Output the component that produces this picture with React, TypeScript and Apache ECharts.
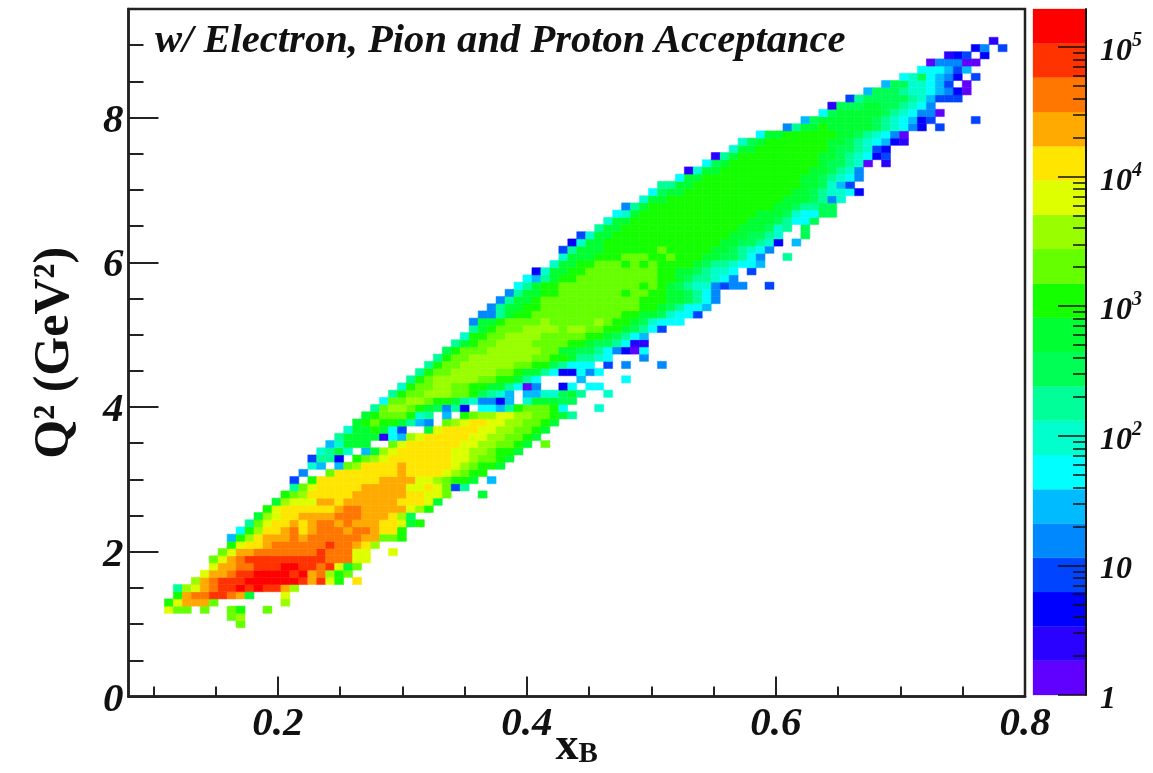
import React, { useEffect, useRef } from "react";
import * as echarts from "echarts";

// Level codes a..t are the 20 contour bands of the palette, low to high.
const LEVEL_CODES = "abcdefghijklmnopqrst";
const levelColors = [
  "#6000ff", "#2a00ff", "#0000ff", "#0044ff", "#0088ff", "#00bbff", "#00ffff", "#00ffcc", "#00ff99", "#00ff55",
  "#00ff33", "#14ff00", "#66ff00", "#99ff00", "#ddff00", "#ffe600", "#ffaa00", "#ff7700", "#ff3300", "#ff0000",
];

// [Q2 row, first xB column, cell codes]; a letter may carry a repeat count, "." is an empty bin.
const histogramRows: [number, number, string][] = [
  [10, 12, "m"],
  [11, 11, "mn"],
  [12, 4, "omm.m..ml..m"],
  [13, 4, "loq3m.7n"],
  [14, 5, "lqrrssrqk.3o"],
  [15, 5, "inoqrsststssqn"],
  [16, 7, "nqrs3t6sqsol.p"],
  [17, 8, "oqqrsst4stqrnlm"],
  [18, 9, "oqqrrs3ttssrsokm"],
  [19, 9, "moqrs9r3oo"],
  [20, 10, "moqqr7sr3oo..o"],
  [21, 11, "loppqr6srrqpn"],
  [22, 11, "flnpq3rqr6qqmml"],
  [23, 12, "glnppqrpqr3qrrqppl"],
  [24, 13, "imoppqpqrrqrq3ppokl"],
  [25, 14, "knoppq4r3q3pnj"],
  [26, 15, "lop6qrrq5onl"],
  [27, 16, "kno3qqpq6p3ok"],
  [28, 17, "lmnp5q6ppoom.3k"],
  [29, 18, "imop5q5oopomdi"],
  [30, 18, "d.lp7q4oonmllk.f"],
  [31, 19, "e..mp7qp4onmll"],
  [32, 20, "hf.fmnp4qp5onmllk"],
  [33, 20, "diic.lmnop7oonmmlk"],
  [34, 21, "hikh.fknop6oonnmllk"],
  [35, 22, "fhk3..mop6oonnmmlk.m"],
  [36, 23, "ik4bgfnop5oonnmmlk"],
  [37, 24, "hkklkgd..kop4oonnmmlk"],
  [38, 25, "klmllkife.mnoppoonnmmlk"],
  [39, 26, "klm3lhi.f.lmnnoonnmmlki"],
  [40, 27, "imnnmlkjeic.ggfilm3lg.3h"],
  [41, 28, "gmmnnmllkiheecf.hk3jj"],
  [42, 29, "ilmmn3mmljihf.ffhhjki..h"],
  [43, 30, "hlmmnnmmllkkigae..cg.gg"],
  [44, 31, "ilmn5mmllkig.4f.4g"],
  [45, 32, "ilmmn5mmlkkigccgeg"],
  [46, 33, "ilmmn6mmlljiggg.d.e.3e"],
  [47, 34, "ilmmn7mmllkiihg.3e"],
  [48, 35, "jlm3n6mmkkjjigecag"],
  [49, 36, "iklmmn4m4llkjjigbb"],
  [50, 37, "hllmmn4m5llkjigf"],
  [51, 38, "iklm3n4mnnmmllkjigd"],
  [52, 38, "ekklm4nm5nmllkjhggg"],
  [53, 39, "eeikllm10llkkjhggd"],
  [54, 40, "eikkllm11llkjiggf"],
  [55, 41, "eikklm11l3kkjige"],
  [56, 42, "eikkllm7lmmllkkjige"],
  [57, 43, "gikllm9lmlkjihhedee..d"],
  [58, 44, "gfikllm9llkjiihge"],
  [59, 45, "chkkllm8llkkjihhg.d"],
  [60, 47, "hkkllm3lmlml4kjiihggf"],
  [61, 48, "hk3l3m3llml3kkjjige..i"],
  [62, 48, "dik3l6ml5kkjihge"],
  [63, 49, "chkkl13kkjjihc.f"],
  [64, 50, "dhkkl13kkjjih..j"],
  [65, 52, "ikkl13k3jhi.j"],
  [66, 53, "hkkl13k3jiggj"],
  [67, 54, "ghkl13k3jhggjj"],
  [68, 55, "eikl14kkjiijj"],
  [69, 57, "hkkl13k3jieh"],
  [70, 58, "gjkkl12kkjihhgc"],
  [71, 59, "iikkl12kkjhfd"],
  [72, 61, "gkkl11kkjihge"],
  [73, 62, "bhkkl10kkjihe"],
  [74, 64, "gjkl10kjjiha.b"],
  [75, 65, "bikl9kkjihgcd"],
  [76, 67, "hkkl8kjjihdc"],
  [77, 68, "hjkl7kkjihgfcb"],
  [78, 70, "gkkl6kkjihgea"],
  [79, 73, "eikklk5jihgec.d"],
  [80, 75, "fjk6jihgfcd.4d"],
  [81, 77, "gjk5jihgeea"],
  [82, 78, "bj3kkjjihge"],
  [83, 80, "dij5ihfd3"],
  [84, 82, "fj3ihhgfeca"],
  [85, 84, "fjjhhgfd.a"],
  [86, 86, "ghjgfec.d"],
  [87, 88, "g3fdf"],
  [88, 89, "ae3aa"],
  [89, 91, "bcd.c"],
  [90, 94, "ce.d"],
  [91, 96, "b"],
];

const X_MIN = 0.08;
const X_MAX = 0.8;
const X_BIN = 0.0072;
const Y_MAX = 9.5;
const Y_ORIGIN = 0.95;
const Y_FIRST_ROW = 10;
const Y_BIN = 0.0995;
const Z_MAX = 196000;

const xMajorTicks = [0.2, 0.4, 0.6, 0.8];
const xMinorTicks = [0.1, 0.15, 0.25, 0.3, 0.35, 0.45, 0.5, 0.55, 0.65, 0.7, 0.75];
const yMajorTicks = [0, 2, 4, 6, 8];
const yMinorTicks = [0.5, 1, 1.5, 2.5, 3, 3.5, 4.5, 5, 5.5, 6.5, 7, 7.5, 8.5, 9];
const zMajorTicks = [1, 10, 100, 1000, 10000, 100000];
const zMinorTicks = [
  2, 3, 4, 5, 6, 7, 8, 9, 20, 30, 40, 50, 60, 70, 80, 90, 200, 300, 400, 500, 600, 700, 800, 900,
  2000, 3000, 4000, 5000, 6000, 7000, 8000, 9000, 20000, 30000, 40000, 50000, 60000, 70000, 80000, 90000,
];

function buildCells() {
  const cells: number[][] = [];
  for (const [row, first, text] of histogramRows) {
    let col = first;
    for (const m of text.matchAll(/([a-t.])(\d*)/g)) {
      const n = m[2] ? Number(m[2]) : 1;
      for (let i = 0; i < n; i++, col++) {
        if (m[1] !== ".") {
          cells.push([X_MIN + col * X_BIN, Y_ORIGIN + (row - Y_FIRST_ROW) * Y_BIN, LEVEL_CODES.indexOf(m[1])]);
        }
      }
    }
  }
  return cells;
}

const SERIF = "Liberation Serif";
const axisLabelBase = { fontFamily: SERIF, fontWeight: "bold" as const, fontStyle: "italic" as const, color: "#111" };

export default function App() {
  const ref = useRef<HTMLDivElement>(null);
  useEffect(() => {
    document.body.style.margin = "0";
    const chart = echarts.init(ref.current!, null, { renderer: "svg" });
    const zStep = Math.log10(Z_MAX) / levelColors.length;
    const barData = levelColors.map((_, i) => [0, Math.pow(10, i * zStep), Math.pow(10, (i + 1) * zStep), i]);
    chart.setOption({
      animation: false,
      backgroundColor: "#fff",
      title: {
        text: "w/ Electron, Pion and Proton Acceptance",
        left: 150,
        top: 13,
        textStyle: { ...axisLabelBase, fontSize: 40.6 },
      },
      grid: [
        { left: 128.5, top: 9, width: 896.5, height: 687.5, show: true, borderColor: "#222", borderWidth: 2.5, backgroundColor: "#fff", outerBoundsMode: "none", containLabel: false },
        { left: 1033, top: 9, width: 53, height: 686, outerBoundsMode: "none", containLabel: false },
      ],
      xAxis: [
        {
          type: "value", gridIndex: 0, position: "bottom", min: X_MIN, max: X_MAX, splitLine: { show: false }, z: 10,
          axisLine: { onZero: false, lineStyle: { color: "#222", width: 2.5 } },
          axisTick: { inside: true, length: 20, customValues: xMajorTicks, lineStyle: { color: "#222", width: 2 } },
          axisLabel: { ...axisLabelBase, fontSize: 41, margin: 4, customValues: xMajorTicks, showMinLabel: true, showMaxLabel: true, formatter: (v: number) => v.toFixed(1) },
          name: "{x|x}{b|B}", nameLocation: "middle", nameGap: 34, nameMoveOverlap: false,
          nameTextStyle: { rich: { x: { fontFamily: SERIF, fontWeight: "bold", fontSize: 46, color: "#111", verticalAlign: "bottom", lineHeight: 36 }, b: { fontFamily: SERIF, fontWeight: "bold", fontSize: 29, color: "#111", verticalAlign: "bottom", lineHeight: 24 } } },
        },
        {
          type: "value", gridIndex: 0, position: "bottom", min: X_MIN, max: X_MAX, splitLine: { show: false }, z: 10,
          axisLine: { show: false, onZero: false },
          axisTick: { inside: true, length: 10, customValues: xMinorTicks, lineStyle: { color: "#222", width: 2 } },
          axisLabel: { show: false },
        },
        { type: "value", gridIndex: 1, min: 0, max: 1, show: false },
      ],
      yAxis: [
        {
          type: "value", gridIndex: 0, position: "left", min: 0, max: Y_MAX, splitLine: { show: false }, z: 10,
          axisLine: { onZero: false, lineStyle: { color: "#222", width: 2.5 } },
          axisTick: { inside: true, length: 30, customValues: yMajorTicks, lineStyle: { color: "#222", width: 2 } },
          axisLabel: { ...axisLabelBase, fontSize: 41, margin: 5, customValues: yMajorTicks, showMinLabel: true },
          name: "Q\u00b2 (GeV\u00b2)", nameLocation: "middle", nameRotate: 90, nameGap: 53, nameMoveOverlap: false,
          nameTextStyle: { fontFamily: SERIF, fontWeight: "bold", fontSize: 50, color: "#111" },
        },
        {
          type: "value", gridIndex: 0, position: "left", min: 0, max: Y_MAX, splitLine: { show: false }, z: 10,
          axisLine: { show: false, onZero: false },
          axisTick: { inside: true, length: 15, customValues: yMinorTicks, lineStyle: { color: "#222", width: 2 } },
          axisLabel: { show: false },
        },
        {
          type: "log", gridIndex: 1, min: 1, max: Z_MAX, position: "right", splitLine: { show: false }, z: 10,
          axisLine: { onZero: false, lineStyle: { color: "#111", width: 2 } },
          axisTick: { inside: true, length: 28, customValues: zMajorTicks, lineStyle: { color: "#111", width: 1.5 } },
          axisLabel: {
            customValues: zMajorTicks, margin: 14,
            formatter: (v: number) => {
              const e = Math.round(Math.log10(v));
              if (e === 0) return "{b|1}";
              if (e === 1) return "{b|10}";
              return `{b|10}{s|${e}}`;
            },
            rich: {
              b: { ...axisLabelBase, fontSize: 32, lineHeight: 36, verticalAlign: "bottom" },
              s: { ...axisLabelBase, fontSize: 20, lineHeight: 36, verticalAlign: "top" },
            },
          },
        },
        {
          type: "log", gridIndex: 1, position: "right", min: 1, max: Z_MAX, splitLine: { show: false }, z: 10,
          axisLine: { show: false, onZero: false },
          axisTick: { inside: true, length: 13, customValues: zMinorTicks, lineStyle: { color: "#111", width: 1.5 } },
          axisLabel: { show: false },
        },
      ],
      series: [
        {
          type: "custom",
          coordinateSystem: "cartesian2d",
          xAxisIndex: 0,
          yAxisIndex: 0,
          progressive: 0,
          data: buildCells(),
          encode: { x: 0, y: 1 },
          renderItem: (_: unknown, api: any) => {
            const p0 = api.coord([api.value(0), api.value(1)]);
            const p1 = api.coord([api.value(0) + X_BIN, api.value(1) + Y_BIN]);
            const fill = levelColors[api.value(2)];
            return {
              type: "rect",
              shape: { x: p0[0], y: p1[1], width: p1[0] - p0[0], height: p0[1] - p1[1] },
              style: { fill, stroke: fill, lineWidth: 0.5 },
            };
          },
        },
        {
          type: "custom",
          coordinateSystem: "cartesian2d",
          xAxisIndex: 2,
          yAxisIndex: 2,
          data: barData,
          encode: { x: 0, y: [1, 2] },
          renderItem: (_: unknown, api: any) => {
            const p0 = api.coord([0, api.value(1)]);
            const p1 = api.coord([1, api.value(2)]);
            const fill = levelColors[api.value(3)];
            return {
              type: "rect",
              shape: { x: p0[0], y: p1[1], width: p1[0] - p0[0], height: p0[1] - p1[1] },
              style: { fill, stroke: fill, lineWidth: 0.3 },
            };
          },
        },
      ],
    });
    return () => chart.dispose();
  }, []);
  return <div ref={ref} style={{ position: "absolute", left: 0, top: 0, width: 1153, height: 773, filter: "blur(0.6px)" }} />;
}
